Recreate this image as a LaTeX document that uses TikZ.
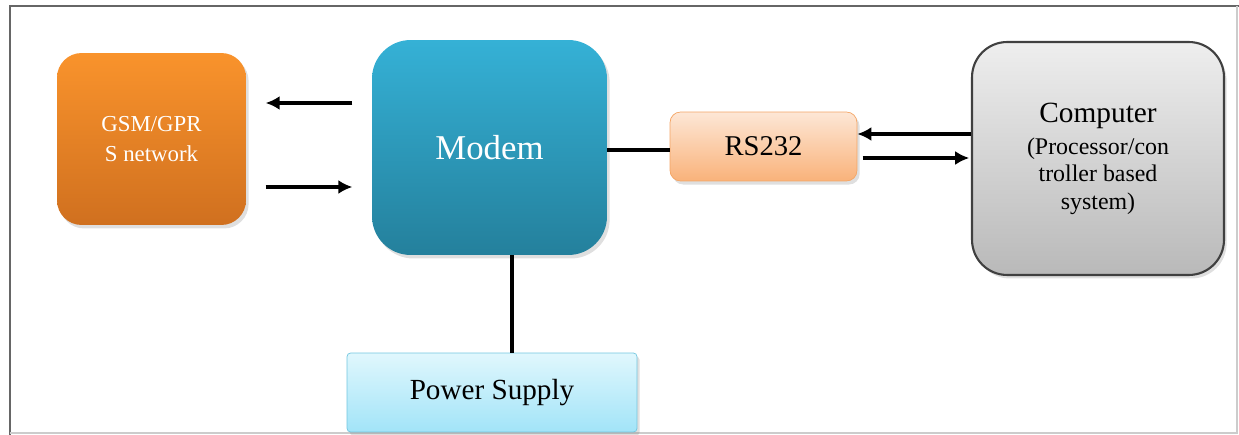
\documentclass[tikz,border=0pt]{standalone}
\usepackage{fontspec}
\setmainfont{Liberation Serif}
\usetikzlibrary{arrows, arrows.meta, shapes, positioning, shadows}

\definecolor{gsmtop}{HTML}{F9932C}
\definecolor{gsmbot}{HTML}{D0701F}
\definecolor{modtop}{HTML}{35B1D6}
\definecolor{modbot}{HTML}{24809C}
\definecolor{rstop}{HTML}{FDE7D6}
\definecolor{rsbot}{HTML}{F9B27A}
\definecolor{rsline}{HTML}{F4A565}
\definecolor{pctop}{HTML}{EEEEEE}
\definecolor{pcbot}{HTML}{B9B9B9}
\definecolor{pctline}{HTML}{404040}
\definecolor{pstop}{HTML}{E0F7FD}
\definecolor{psbot}{HTML}{A2E4F8}
\definecolor{psline}{HTML}{72C6DF}

\tikzset{
  blk/.style={align=center, inner sep=0pt,
    drop shadow={shadow xshift=1.5pt, shadow yshift=-2pt, opacity=0.25}},
  wire/.style={line width=2pt},
  >={Latex[length=8pt,width=8pt]}
}

\begin{document}
\begin{tikzpicture}[x=0.02cm, y=-0.02cm]
  \useasboundingbox (0,0) rectangle (1239,435);

  % cadre
  \draw[line width=1.5pt, gray!80!black] (10,435) -- (10,6) -- (1239,6);
  \draw[line width=0.6pt, gray!40] (1237,6) -- (1237,433) -- (10,433);

  \node[blk, rounded corners=14pt, top color=gsmtop, bottom color=gsmbot,
        minimum width=3.78cm, minimum height=3.44cm, text=white,
        font=\fontsize{13}{17}\selectfont] (gsm) at (151.5,139) {GSM/GPR\\S network};
  \node[blk, rounded corners=22pt, top color=modtop, bottom color=modbot,
        minimum width=4.70cm, minimum height=4.30cm, text=white,
        font=\fontsize{19.8}{24}\selectfont] (modem) at (489.5,147.5) {Modem};
  \node[blk, rounded corners=6pt, top color=rstop, bottom color=rsbot, draw=rsline,
        minimum width=3.74cm, minimum height=1.38cm,
        font=\fontsize{16.3}{20}\selectfont] (rs) at (763.5,146.5) {RS232};
  \node[blk, rounded corners=20pt, top color=pctop, bottom color=pcbot,
        draw=pctline, line width=1.2pt,
        minimum width=5.04cm, minimum height=4.66cm,
        font=\fontsize{13.6}{15.5}\selectfont] (pc) at (1098,158.5)
        {{\fontsize{16.7}{20}\selectfont Computer}\\[3pt](Processor/con\\troller based\\system)};
  \node[blk, rounded corners=2pt, top color=pstop, bottom color=psbot, draw=psline,
        minimum width=5.80cm, minimum height=1.58cm,
        font=\fontsize{16.6}{20}\selectfont] (ps) at (492,392.5) {Power Supply};

  % gauche
  \draw[wire, ->, shorten <=11pt, shorten >=11pt] (modem.west |- 0,103) -- (gsm.east |- 0,103);
  \draw[wire, ->, shorten <=11pt, shorten >=11pt] (gsm.east |- 0,187) -- (modem.west |- 0,187);

  % droite
  \draw[wire] (modem.east |- 0,150) -- (rs.west |- 0,150);
  \draw[wire, ->] (pc.west |- 0,134) -- (rs.east |- 0,134);
  \draw[wire, ->, shorten <=3pt, shorten >=1pt] (rs.east |- 0,158) -- (pc.west |- 0,158);

  % alimentation
  \draw[wire] (modem.south -| 512,0) -- (ps.north -| 512,0);
\end{tikzpicture}
\end{document}
